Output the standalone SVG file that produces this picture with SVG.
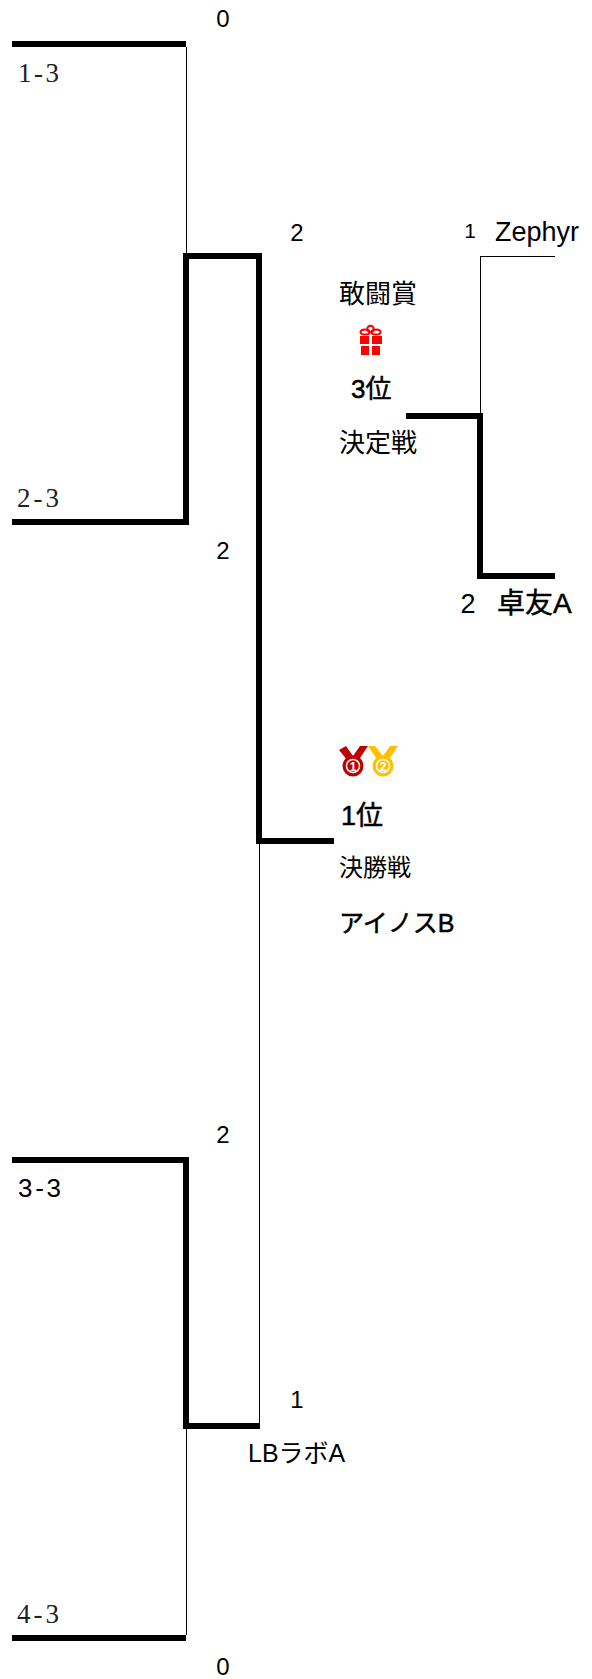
<svg xmlns="http://www.w3.org/2000/svg" width="592" height="1679" viewBox="0 0 592 1679">
<style>
.t{font-family:"Liberation Sans","Noto Sans CJK JP",sans-serif;fill:#000}
.m{font-family:"Liberation Serif","Noto Sans CJK JP",serif;font-size:27px;fill:#222}
.k{fill:#000;stroke:none}
.w{fill:#fff;font-family:"Liberation Sans",sans-serif;font-size:12px;font-weight:bold;text-anchor:middle}
.s{font-size:24px;text-anchor:middle}
.h{stroke:#000;stroke-width:.5px}
</style>
<rect width="592" height="1679" fill="#fff"/>
<g id="connectors">
<rect class="k" x="12" y="41" width="174" height="6"/>
<rect class="k" x="186" y="47" width="1" height="206"/>
<rect class="k" x="183" y="253" width="79" height="6"/>
<rect class="k" x="183" y="253" width="6" height="272"/>
<rect class="k" x="12" y="519" width="177" height="6"/>
<rect class="k" x="256" y="253" width="6" height="591"/>
<rect class="k" x="256" y="838" width="78" height="6"/>
<rect class="k" x="259" y="844" width="1" height="579"/>
<rect class="k" x="12" y="1157" width="177" height="6"/>
<rect class="k" x="183" y="1157" width="6" height="272"/>
<rect class="k" x="183" y="1423" width="77" height="6"/>
<rect class="k" x="186" y="1429" width="1" height="206"/>
<rect class="k" x="12" y="1635" width="174" height="6"/>
<rect class="k" x="480" y="256" width="75" height="1"/>
<rect class="k" x="480" y="256" width="1" height="157"/>
<rect class="k" x="406" y="413" width="77" height="6"/>
<rect class="k" x="477" y="413" width="6" height="166"/>
<rect class="k" x="477" y="573" width="78" height="6"/>
</g>
<g id="semi1-top"><text class="m" x="18" y="82" textLength="41" lengthAdjust="spacing">1-3</text><text class="t s" x="223" y="27">0</text></g>
<g id="semi1-bottom"><text class="m" x="17" y="507" textLength="42" lengthAdjust="spacing">2-3</text><text class="t s" x="223" y="559">2</text></g>
<g id="semi2-top"><text class="t" x="18" y="1197" font-size="26" textLength="43" lengthAdjust="spacing">3-3</text><text class="t s" x="223" y="1143">2</text></g>
<g id="semi2-bottom"><text class="m" x="17" y="1623" textLength="42" lengthAdjust="spacing">4-3</text><text class="t s" x="223" y="1675">0</text></g>
<g id="final-top-score"><text class="t s" x="297" y="241">2</text></g>
<g id="final-bottom"><text class="t s" x="297" y="1408">1</text><text class="t" x="248" y="1462" font-size="25">LBラボA</text></g>
<g id="award"><text class="t" x="339" y="303" font-size="26">敢闘賞</text>
<g fill="#f00"><rect x="360" y="336" width="9" height="8"/><rect x="372" y="336" width="10" height="8"/><rect x="361" y="346" width="8" height="9"/><rect x="372" y="346" width="8" height="9"/><ellipse cx="365" cy="332" rx="4.500" ry="2.600" fill="none" stroke="#f00" stroke-width="2"/><ellipse cx="376" cy="332" rx="4.500" ry="2.600" fill="none" stroke="#f00" stroke-width="2"/><circle cx="370.500" cy="329" r="3.200" fill="none" stroke="#f00" stroke-width="2"/></g></g>
<g id="third"><text class="t h" x="351" y="398" font-size="26">3位</text><text class="t" x="339" y="452" font-size="26">決定戦</text></g>
<g id="third-a"><text class="t" x="470" y="238" font-size="21" text-anchor="middle">1</text><text class="t" x="495" y="241" font-size="27">Zephyr</text></g>
<g id="third-b"><text class="t" x="468" y="613" font-size="27" text-anchor="middle">2</text><text class="t h" x="497" y="613" font-size="28">卓友A</text></g>
<g id="champion"><text class="t h" x="341" y="825" font-size="27">1位</text><text class="t" x="339" y="876" font-size="24">決勝戦</text><text class="t h" x="339" y="932" font-size="25">アイノスB</text>
<g id="medal1"><path d="M339 750l7-4 7 10 7-10 8 0-10 15h-10z" fill="#c00000"/><circle cx="353" cy="766" r="10.500" fill="#c00000"/><circle cx="353" cy="766" r="6.500" fill="none" stroke="#fff" stroke-width="1.500"/><text class="w" x="353" y="770.500">1</text></g>
<g id="medal2"><path d="M368 746h7l8 10 7-10 8 0-10 15h-10z" fill="#ffc000"/><circle cx="383" cy="766" r="10.500" fill="#ffc000"/><circle cx="383" cy="766" r="6.500" fill="none" stroke="#fff" stroke-width="1.500"/><text class="w" x="383" y="770.500">2</text></g></g>
</svg>
